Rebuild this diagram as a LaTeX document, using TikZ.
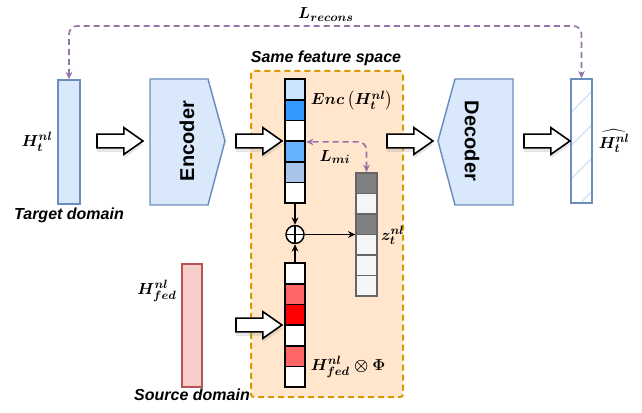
\documentclass[tikz,border=0pt]{standalone}
\usepackage{amsmath,bm}
\usepackage{fontspec}
\setsansfont{Liberation Sans}
\usetikzlibrary{positioning,shapes.arrows,shadows,arrows.meta}

\definecolor{blockfill}{HTML}{DAE8FC}
\definecolor{blockdraw}{HTML}{6C8EBF}
\definecolor{srcfill}{HTML}{F8CECC}
\definecolor{srcdraw}{HTML}{B85450}
\definecolor{spacefill}{HTML}{FFE6CC}
\definecolor{spacedraw}{HTML}{D79B00}
\definecolor{lossc}{HTML}{9673A6}
\definecolor{hatchc}{HTML}{C9DDF5}
\definecolor{encA}{HTML}{CCE5FF}
\definecolor{encB}{HTML}{3399FF}
\definecolor{encC}{HTML}{66B2FF}
\definecolor{encD}{HTML}{A9C4EB}
\definecolor{redA}{HTML}{FF6666}
\definecolor{redB}{HTML}{FF0000}
\definecolor{grayD}{HTML}{808080}
\definecolor{grayL}{HTML}{F5F5F5}
\definecolor{grayB}{HTML}{666666}

\begin{document}
\begin{tikzpicture}[x=0.75pt, y=-0.75pt, >={Stealth[length=5.5pt,width=5pt]},
  every node/.style={font=\boldmath\fontsize{12.5}{15}\selectfont},
  txt/.style={font=\sffamily\bfseries\itshape\fontsize{12}{14}\selectfont},
  codetxt/.style={font=\sffamily\bfseries\fontsize{15}{18}\selectfont},
  bar/.style={draw=blockdraw, fill=blockfill, line width=1.1pt, minimum width=16.5pt, minimum height=93pt, inner sep=0pt},
  cell/.style={draw, line width=1.3pt, minimum width=15.4pt, minimum height=15.5pt, inner sep=0pt},
  fat/.style={single arrow, draw, line width=1.2pt, fill=white, minimum height=34.5pt, inner xsep=0pt, inner ysep=4.6pt, single arrow head extend=4.8pt, single arrow tip angle=70, drop shadow={opacity=0.2, shadow xshift=0pt, shadow yshift=-3pt}},
  loss/.style={draw=lossc, line width=1.2pt, dash pattern=on 4.5pt off 3pt, rounded corners=6pt, <->},
  codec/.style={draw=blockdraw, fill=blockfill, line width=1.1pt}]
  \useasboundingbox (0,0) rectangle (642,413);

  \node[bar] (tgt) at (69,142) {};
  \node (htgt) [left=0pt of tgt] {$H_t^{nl}$};
  \node[txt] (tgtname) [below=-1pt of tgt] {Target domain};

  \node[bar, fill=white, minimum width=15.75pt, path picture={
      \foreach \k in {1,...,4}
        \draw[hatchc, line width=0.8pt] ([yshift=-\k*25pt]path picture bounding box.north west) -- ++(30,-30);
    }] (out) at (581.5,141) {};
  \node (hout) [right=1pt of out] {$\widehat{H_t^{nl}}$};

  \coordinate (rtop) at (326,26);
  \draw[loss] (tgt.north) |- (rtop) -| (out.north);
  \node (lrec) [above=0pt of rtop] {$L_{recons}$};

  \draw[codec] (150,79) -- (208,79) -- (225,141) -- (208,205) -- (150,205) -- cycle;
  \node[codetxt, rotate=90] (encoder) at (187,141) {Encoder};
  \draw[codec] (455,79) -- (513,79) -- (513,205) -- (455,205) -- (438,141) -- cycle;
  \node[codetxt, rotate=-90] (decoder) at (472,141) {Decoder};

  \node[draw=spacedraw, fill=spacefill, line width=1.5pt, dash pattern=on 4.5pt off 3pt, rounded corners=2pt, minimum width=114pt, minimum height=244.5pt] (space) at (327,234) {};
  \node[txt] (spacename) at (326,58) {Same feature space};

  \node[draw=srcdraw, fill=srcfill, line width=1.1pt, minimum width=15pt, minimum height=92.25pt, inner sep=0pt] (src) at (192,325.5) {};
  \node (hfed) [left=0pt of src.west, yshift=26pt] {$H_{fed}^{nl}$};
  \node[txt] (srcname) [below=-3pt of src] {Source domain};

  \node[fat] (a1) at (115,141) {};
  \node[fat] (a2) at (254,141) {};
  \node[fat] (a3) at (254,325) {};
  \node[fat] (a4) at (405,141) {};
  \node[fat] (a5) at (542,141) {};

  \foreach \c [count=\i] in {encA,encB,white,encC,encD,white}
    \node[cell, fill=\c] (enc\i) at (295,68.65+20.7*\i) {};
  \foreach \c [count=\i] in {white,redA,redB,white,redA,white}
    \node[cell, fill=\c] (red\i) at (295,252.65+20.7*\i) {};
  \foreach \c [count=\i] in {grayD,grayL,grayD,grayL,grayL,grayL}
    \node[cell, draw=grayB, fill=\c] (z\i) at (366.5,162.75+20.5*\i) {};

  \node (enclabel) [right=0pt of enc1.south east] {$Enc\left(H_t^{nl}\right)$};
  \node (zlabel) [right=-1pt of z3.south east] {$z_t^{nl}$};
  \node (fedlabel) [right=0pt of red5.south east] {$H_{fed}^{nl}\otimes\Phi$};

  \draw[loss] (z1.north) |- (enc3.south east);
  \node (lmi) at (335,157) {$L_{mi}$};

  \node[circle, draw, line width=1.1pt, fill=white, minimum size=13.5pt, inner sep=0pt, path picture={
      \draw[line width=1.1pt] (path picture bounding box.north) -- (path picture bounding box.south)
        (path picture bounding box.west) -- (path picture bounding box.east);
    }] (plus) at (295,234.5) {};
  \draw[->, line width=1.1pt] (enc6.south) -- (plus.north);
  \draw[->, line width=1.1pt] (red1.north) -- (plus.south);
  \draw[->, line width=1.1pt] (plus.east) -- (plus.east -| z3.west);
\end{tikzpicture}
\end{document}
